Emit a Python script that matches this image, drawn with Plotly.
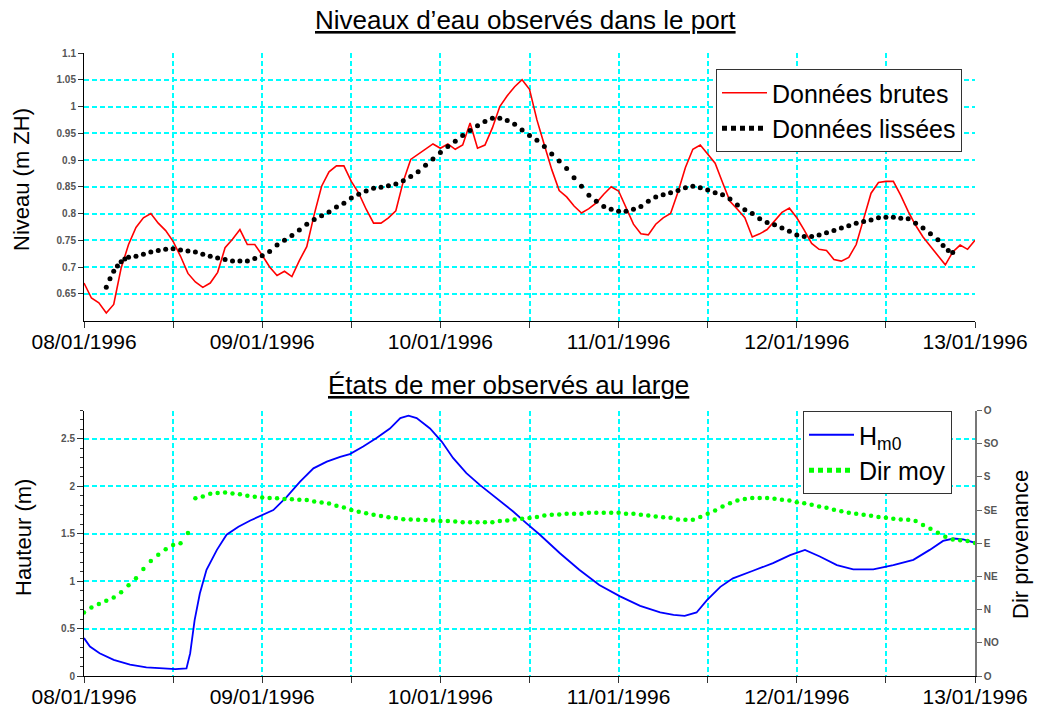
import plotly.graph_objects as go

# ---------------- data ----------------
day_labels = ["08/01/1996", "09/01/1996", "10/01/1996", "11/01/1996", "12/01/1996", "13/01/1996"]
x_tick_hours = list(range(0, 121, 12))
x_tick_text = [day_labels[i // 2] if i % 2 == 0 else "" for i in range(len(x_tick_hours))]

level_ticks = [0.65, 0.7, 0.75, 0.8, 0.85, 0.9, 0.95, 1.0, 1.05, 1.1]
height_ticks = [0, 0.5, 1, 1.5, 2, 2.5]
dir_ticks = [-90, -45, 0, 45, 90, 135, 180, 225, 270]
dir_labels = ["O", "NO", "N", "NE", "E", "SE", "S", "SO", "O"]

raw_hours = list(range(121))
raw_level = [
    0.670, 0.642, 0.633, 0.614, 0.630, 0.698, 0.742, 0.774, 0.792, 0.800,
    0.782, 0.768, 0.748, 0.720, 0.688, 0.672, 0.662, 0.670, 0.690, 0.736,
    0.752, 0.770, 0.742, 0.742, 0.722, 0.700, 0.684, 0.692, 0.682, 0.712,
    0.738, 0.798, 0.851, 0.878, 0.889, 0.889, 0.860, 0.838, 0.808, 0.782,
    0.782, 0.792, 0.805, 0.860, 0.901, 0.911, 0.921, 0.930, 0.922, 0.930,
    0.920, 0.928, 0.969, 0.922, 0.928, 0.960, 1.000, 1.020, 1.037, 1.050,
    1.032, 0.975, 0.928, 0.882, 0.843, 0.831, 0.814, 0.801, 0.809, 0.820,
    0.836, 0.850, 0.842, 0.810, 0.780, 0.762, 0.760, 0.780, 0.792, 0.800,
    0.840, 0.886, 0.920, 0.928, 0.912, 0.894, 0.858, 0.823, 0.808, 0.792,
    0.756, 0.762, 0.770, 0.785, 0.802, 0.810, 0.792, 0.769, 0.744, 0.733,
    0.731, 0.714, 0.711, 0.718, 0.742, 0.790, 0.838, 0.858, 0.860, 0.860,
    0.834, 0.804, 0.778, 0.756, 0.738, 0.722, 0.704, 0.728, 0.741, 0.733,
    0.750,
]

smooth_hours = [3.0, 3.5, 4.0, 4.5, 5.0, 5.5] + list(range(6, 116)) + [115.7, 116.4, 117.0]
smooth_level = [
    0.662, 0.678, 0.692, 0.702, 0.710, 0.715,
    0.718, 0.720, 0.724, 0.728, 0.731, 0.733, 0.734, 0.732, 0.730, 0.728,
    0.724, 0.720, 0.717, 0.714, 0.711, 0.711, 0.711, 0.716, 0.721, 0.729,
    0.741, 0.750, 0.759, 0.769, 0.780, 0.789, 0.796, 0.803, 0.812, 0.819,
    0.829, 0.836, 0.842, 0.847, 0.849, 0.852, 0.855, 0.861, 0.869, 0.878,
    0.890, 0.902, 0.914, 0.925, 0.935, 0.946, 0.955, 0.964, 0.972, 0.978,
    0.978, 0.974, 0.967, 0.956, 0.946, 0.937, 0.925, 0.911, 0.898, 0.884,
    0.867, 0.851, 0.834, 0.823, 0.813, 0.808, 0.804, 0.804, 0.808, 0.813,
    0.823, 0.831, 0.835, 0.839, 0.843, 0.848, 0.851, 0.848, 0.844, 0.839,
    0.835, 0.827, 0.816, 0.807, 0.800, 0.790, 0.783, 0.779, 0.773, 0.767,
    0.760, 0.757, 0.757, 0.760, 0.764, 0.768, 0.773, 0.777, 0.782, 0.785,
    0.788, 0.792, 0.793, 0.793, 0.791, 0.790, 0.782, 0.773, 0.762, 0.751,
    0.740, 0.731, 0.727,
]

hm0_hours = [
    0, 0.8, 2.1, 4.0, 6.2, 8.4, 10.7, 12.3, 13.8, 14.3, 14.9, 15.6, 16.5, 17.9,
    19.2, 20.8, 22.4, 24.1, 25.5, 27.3, 29.1, 30.9, 32.7, 34.5, 35.8, 37.6, 39.4,
    41.2, 42.6, 43.7, 44.8, 46.6, 48.2, 49.7, 51.5, 53.3, 55.6, 57.8, 59.6, 61.4,
    64.1, 66.7, 69.4, 72.2, 74.9, 77.6, 79.4, 80.9, 82.5, 83.9, 85.7, 87.4, 90.1,
    92.8, 95.1, 97.1, 99.1, 101.4, 103.6, 106.3, 109.0, 111.7, 113.9, 115.7, 117.1,
    118.4, 120.0,
]
hm0 = [
    0.40, 0.31, 0.24, 0.17, 0.12, 0.092, 0.081, 0.072, 0.08, 0.24, 0.59, 0.87, 1.12, 1.33,
    1.49, 1.575, 1.64, 1.70, 1.75, 1.89, 2.05, 2.19, 2.26, 2.31, 2.34, 2.42, 2.51,
    2.61, 2.72, 2.745, 2.72, 2.61, 2.47, 2.30, 2.14, 2.015, 1.875, 1.735, 1.61, 1.49,
    1.295, 1.12, 0.96, 0.84, 0.74, 0.67, 0.645, 0.635, 0.67, 0.80, 0.94, 1.03, 1.11,
    1.19, 1.275, 1.33, 1.26, 1.17, 1.125, 1.125, 1.17, 1.225, 1.33, 1.425, 1.45,
    1.44, 1.405,
]

dir_hours = list(range(121))
dir_moy = [
    -4, 3, 7.5, 12, 16.5, 23.5, 33, 42.5, 55, 66,
    74.5, 82, 87.5, 90, 104, 151, 153.5, 157, 158.2, 158.8,
    157.5, 156.6, 154.3, 153, 152, 151.4, 150.9, 150, 149.5, 149.1,
    148.6, 146.7, 145.3, 143.8, 140.8, 138.5, 135.1, 132.8, 130.6, 128.5,
    127.1, 125.2, 124.4, 122.5, 122.2, 121.8, 121.6, 120.9, 120, 120,
    119.6, 118.6, 118.6, 118.6, 118.6, 118.6, 120, 120.9, 122.2, 123.2,
    124.3, 125.5, 127.7, 128.6, 129.1, 129.9, 129.9, 130, 131.2, 131.2,
    131.2, 131.2, 131.2, 129.9, 129.9, 128.6, 127.6, 126.3, 125.3, 124.5,
    122.2, 121.8, 122, 125.5, 130, 134.5, 139.7, 144.1, 147.8, 150.1,
    151.4, 151.4, 151.4, 150.2, 149.1, 147.9, 145.6, 144.2, 142.1, 139.8,
    138.1, 135.5, 133.3, 131.4, 130, 128.7, 127.4, 125.5, 124.6, 123.3,
    122.3, 121.9, 120.3, 114.6, 109.7, 104.3, 98.8, 95.1, 94.1, 93.2,
    90.4,
]

# ---------------- layout helpers ----------------
W, H = 1043, 710
FONT = "Liberation Sans, Arial, sans-serif"


def px_x(p):
    return p / W


def px_y(p):
    return 1 - p / H


GRID = dict(showgrid=True, gridcolor="#00ffff", gridwidth=2, griddash="5px,3px", zeroline=False)
TICKFONT_SMALL = dict(family=FONT, size=10, color="#555555", weight="bold")
TICKFONT_X = dict(family=FONT, size=21, color="#000000")

fig = go.Figure()

# top chart
fig.add_trace(go.Scatter(x=raw_hours, y=raw_level, mode="lines", name="Données brutes",
                         line=dict(color="#ff0000", width=1.6), xaxis="x", yaxis="y",
                         legend="legend"))
fig.add_trace(go.Scatter(x=smooth_hours, y=smooth_level, mode="markers", showlegend=False,
                         marker=dict(color="#000000", size=5), xaxis="x", yaxis="y"))
fig.add_trace(go.Scatter(x=[None], y=[None], mode="lines", name="Données lissées",
                         line=dict(color="#000000", width=5, dash="5px,4px"),
                         xaxis="x", yaxis="y", legend="legend"))

# bottom chart
fig.add_trace(go.Scatter(x=hm0_hours, y=hm0, mode="lines", name="H<sub>m0</sub>",
                         line=dict(color="#0000ff", width=1.8), xaxis="x2", yaxis="y2",
                         legend="legend2"))
fig.add_trace(go.Scatter(x=dir_hours, y=dir_moy, mode="markers", showlegend=False,
                         marker=dict(color="#00ff00", size=4.5), xaxis="x2", yaxis="y3"))
fig.add_trace(go.Scatter(x=[None], y=[None], mode="lines", name="Dir moy",
                         line=dict(color="#00ff00", width=5, dash="5px,4px"),
                         xaxis="x2", yaxis="y3", legend="legend2"))

xdom = [px_x(84), px_x(975)]
xaxis_common = dict(range=[0, 120], tickmode="array", tickvals=x_tick_hours, ticktext=x_tick_text,
                    ticks="outside", ticklen=6, tickcolor="#333333", showline=True,
                    linecolor="#000000", linewidth=1, tickfont=TICKFONT_X, automargin=False,
                    ticklabelstandoff=-4, **GRID)

legend_common = dict(xanchor="right", yanchor="top", bgcolor="white", bordercolor="#333333",
                     borderwidth=1, font=dict(family=FONT, size=25, color="#000000"),
                     tracegroupgap=0, itemwidth=45)

fig.update_layout(
    template="none",
    width=W, height=H,
    margin=dict(l=0, r=0, t=0, b=0, pad=0, autoexpand=False),
    paper_bgcolor="white", plot_bgcolor="white",
    font=dict(family=FONT, color="#000000"),
    xaxis=dict(domain=xdom, anchor="y", **xaxis_common),
    yaxis=dict(domain=[px_y(320.5), px_y(53)], range=[0.6, 1.1], anchor="x",
               tickmode="array", tickvals=level_ticks, ticktext=[f"{v:g}" for v in level_ticks],
               ticks="outside", ticklen=5, tickcolor="#333333", showline=True, automargin=False,
               linecolor="#000000", linewidth=1, tickfont=TICKFONT_SMALL, **GRID),
    xaxis2=dict(domain=xdom, anchor="y2", **xaxis_common),
    yaxis2=dict(domain=[px_y(676), px_y(410.5)], range=[0, 2.8], anchor="x2",
                tickmode="array", tickvals=height_ticks, ticktext=[f"{v:g}" for v in height_ticks],
                ticks="outside", ticklen=6, tickcolor="#333333", showline=True, automargin=False,
                linecolor="#000000", linewidth=1, tickfont=TICKFONT_SMALL,
                minor=dict(dtick=0.1, tick0=0, ticks="outside", ticklen=3, tickcolor="#333333",
                           showgrid=False),
                **GRID),
    yaxis3=dict(overlaying="y2", anchor="x2", side="right", range=[-90, 270],
                tickmode="array", tickvals=dir_ticks, ticktext=dir_labels, automargin=False,
                ticks="outside", ticklen=5, tickcolor="#666666", showline=True,
                linecolor="#777777", linewidth=1.5, tickfont=TICKFONT_SMALL,
                showgrid=False, zeroline=False),
    legend=dict(x=px_x(962), y=px_y(69), **legend_common),
    legend2=dict(x=px_x(952), y=px_y(411), **legend_common),
    showlegend=True,
)

annotations = [
    dict(text="<u>Niveaux d’eau observés dans le port</u>", x=px_x(525), y=px_y(20),
         font=dict(size=26)),
    dict(text="<u>États de mer observés au large</u>", x=px_x(508), y=px_y(385),
         font=dict(size=26)),
    dict(text="Niveau (m ZH)", x=px_x(21), y=px_y(180), textangle=-90, font=dict(size=22)),
    dict(text="Hauteur (m)", x=px_x(23), y=px_y(538), textangle=-90, font=dict(size=22)),
    dict(text="Dir provenance", x=px_x(1020), y=px_y(545), textangle=-90, font=dict(size=22)),
]
for a in annotations:
    a.update(xref="paper", yref="paper", showarrow=False, xanchor="center", yanchor="middle")
    a["font"].update(family=FONT, color="#000000")
fig.update_layout(annotations=annotations)

fig.write_html("out.html", config={"displayModeBar": False},
               post_script="document.body.style.margin='0';document.body.style.overflow='hidden';")
